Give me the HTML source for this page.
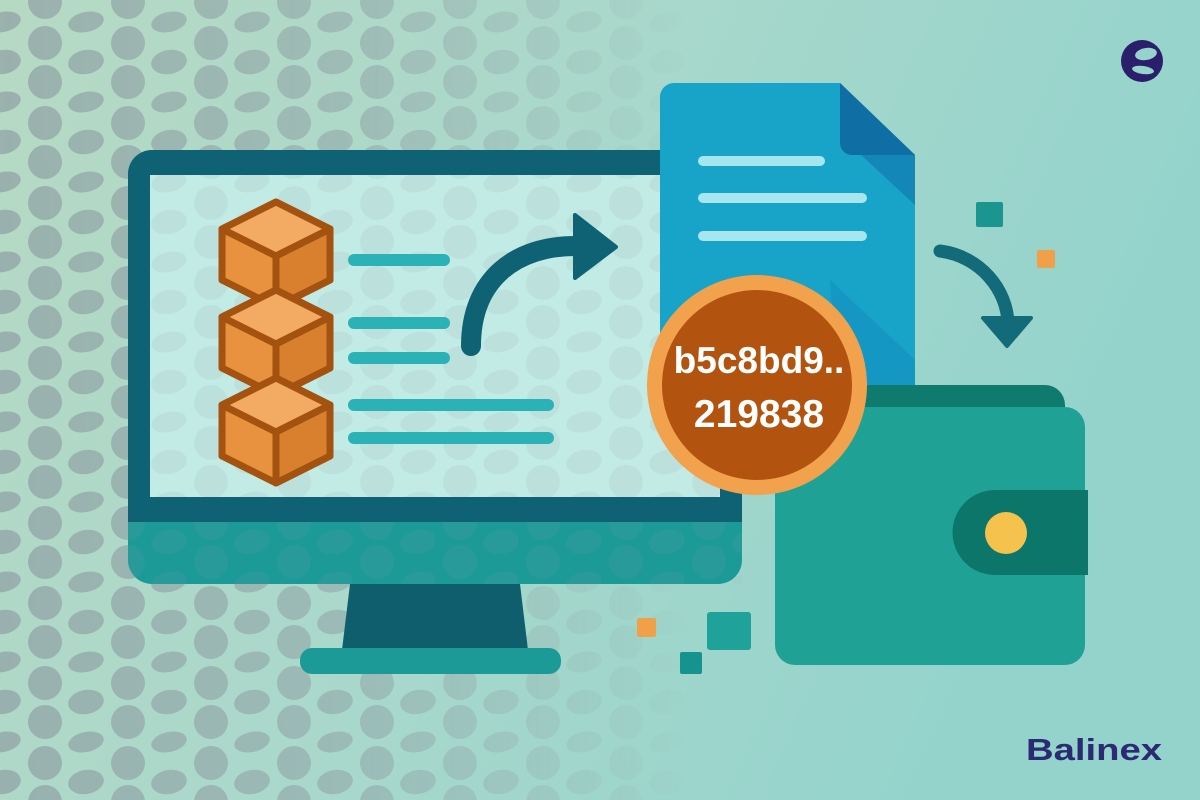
<!DOCTYPE html>
<html><head><meta charset="utf-8"><style>
html,body{margin:0;padding:0;width:1200px;height:800px;overflow:hidden}
svg{display:block}
</style></head><body>
<svg width="1200" height="800" viewBox="0 0 1200 800" xmlns="http://www.w3.org/2000/svg">
<defs>
<linearGradient id="bg" x1="0" y1="0" x2="1" y2="0.3">
<stop offset="0" stop-color="#b6d9c4"/><stop offset="0.5" stop-color="#a9d8cb"/><stop offset="1" stop-color="#93d3cc"/>
</linearGradient>
<pattern id="dots" width="83" height="80" patternUnits="userSpaceOnUse" x="-2" y="2">
<circle cx="47" cy="41" r="17" fill="#8e9fa3"/>
<circle cx="47" cy="0" r="17" fill="#8e9fa3"/>
<circle cx="47" cy="80" r="17" fill="#8e9fa3"/>
<ellipse cx="88" cy="20" rx="18" ry="10" transform="rotate(-12 88 20)" fill="#8e9fa3"/>
<ellipse cx="5" cy="20" rx="18" ry="10" transform="rotate(-12 5 20)" fill="#8e9fa3"/>
<ellipse cx="88" cy="60" rx="18" ry="12" transform="rotate(-10 88 60)" fill="#8e9fa3"/>
<ellipse cx="5" cy="60" rx="18" ry="12" transform="rotate(-10 5 60)" fill="#8e9fa3"/>
</pattern>
<linearGradient id="fade" x1="0" y1="0" x2="1" y2="0">
<stop offset="0" stop-color="#fff" stop-opacity="0.7"/><stop offset="0.3" stop-color="#fff" stop-opacity="0.5"/><stop offset="0.58" stop-color="#fff" stop-opacity="0"/>
</linearGradient>
<mask id="m"><rect width="1200" height="800" fill="url(#fade)"/></mask>
</defs>
<rect width="1200" height="800" fill="url(#bg)"/>
<rect width="1200" height="800" fill="url(#dots)" mask="url(#m)"/>

<!-- monitor -->
<path d="M350 584 L520 584 L528 650 L342 650 Z" fill="#0e5e6e"/>
<rect x="300" y="648" width="261" height="26" rx="12" fill="#1c9a98"/>
<rect x="128" y="150" width="614" height="434" rx="24" fill="#1c9a98"/>
<path d="M152 150 H718 A24 24 0 0 1 742 174 V522 H128 V174 A24 24 0 0 1 152 150 Z" fill="#0e6274"/>
<rect x="150" y="175" width="570" height="322" fill="#c3ebe6"/>
<rect x="150" y="175" width="570" height="322" fill="url(#dots)" opacity="0.13"/>
<rect x="128" y="522" width="614" height="62" fill="url(#dots)" opacity="0.1"/>

<!-- cubes -->
<g stroke="#a4520f" stroke-width="7" stroke-linejoin="round">
<g id="c1">
<polygon points="276,202 330,229 330,280 276,307 222,280 222,229" fill="#e8913e"/>
<polygon points="276,202 330,229 276,256 222,229" fill="#f3ab64"/>
<polygon points="276,256 330,229 330,280 276,307" fill="#d9802f"/>
</g>
<use href="#c1" y="88"/>
<use href="#c1" y="176"/>
</g>

<!-- lines -->
<g stroke="#2ab2b7" stroke-width="12" stroke-linecap="round">
<line x1="354" y1="260" x2="444" y2="260"/>
<line x1="354" y1="323" x2="444" y2="323"/>
<line x1="354" y1="358" x2="444" y2="358"/>
<line x1="354" y1="405" x2="548" y2="405"/>
<line x1="354" y1="438" x2="548" y2="438"/>
</g>

<!-- arrow 1 -->
<path d="M471 346 C471 280 515 245 578 246" fill="none" stroke="#0e6274" stroke-width="20" stroke-linecap="round"/>
<polygon points="575,215 616,247 575,278" fill="#0e6274" stroke="#0e6274" stroke-width="4" stroke-linejoin="round"/>

<!-- document -->
<path d="M674 83 H840 L915 155 V413 A12 12 0 0 1 903 425 H672 A12 12 0 0 1 660 413 V97 A14 14 0 0 1 674 83 Z" fill="#18a3c8"/>
<path d="M840 83 L915 155 L915 205 L845 140 Z" fill="#1388b8"/>
<path d="M840 83 L915 155 H852 A12 12 0 0 1 840 143 Z" fill="#0f6fa4"/>
<path d="M830 280 L915 360 V413 A12 12 0 0 1 903 425 H840 Z" fill="#1390c0" opacity="0.6"/>
<g stroke="#a5e6ef" stroke-width="10" stroke-linecap="round">
<line x1="703" y1="161" x2="820" y2="161"/>
<line x1="703" y1="198" x2="862" y2="198"/>
<line x1="703" y1="236" x2="862" y2="236"/>
</g>

<!-- wallet -->
<rect x="775" y="385" width="290" height="120" rx="20" fill="#0f7a6e"/>
<rect x="775" y="407" width="310" height="258" rx="20" fill="#20a196"/>
<path d="M995 490 H1088 V575 H995 A42 42 0 0 1 995 490 Z" fill="#0c766a"/>
<circle cx="1006" cy="533" r="21" fill="#f6c24e"/>

<!-- coin -->
<circle cx="757" cy="385" r="110" fill="#f2a14c"/>
<circle cx="757" cy="385" r="95" fill="#b2540f"/>
<text x="759" y="373" text-anchor="middle" font-family="Liberation Sans, sans-serif" font-weight="bold" font-size="37" fill="#fff">b5c8bd9..</text>
<text x="759" y="427" text-anchor="middle" font-family="Liberation Sans, sans-serif" font-weight="bold" font-size="39" fill="#fff">219838</text>

<!-- arrow 2 -->
<path d="M940 251 C980 256 1008 290 1008 325" fill="none" stroke="#136a78" stroke-width="13" stroke-linecap="round"/>
<polygon points="983,318 1031,318 1007,346" fill="#136a78" stroke="#136a78" stroke-width="4" stroke-linejoin="round"/>

<!-- squares -->
<rect x="976" y="202" width="27" height="25" rx="2" fill="#1b958f"/>
<rect x="1037" y="250" width="18" height="18" rx="2" fill="#f0a048"/>
<rect x="637" y="618" width="19" height="19" rx="2" fill="#f0a048"/>
<rect x="707" y="612" width="44" height="38" rx="3" fill="#1ea29a"/>
<rect x="680" y="652" width="22" height="22" rx="2" fill="#16938f"/>

<!-- logo -->
<circle cx="1142" cy="61" r="21" fill="#2a1f6a"/>
<ellipse cx="1146" cy="54" rx="11" ry="6" fill="#95d3cc" transform="rotate(-10 1146 54)"/>
<ellipse cx="1143" cy="70" rx="11" ry="4" fill="#95d3cc" transform="rotate(8 1143 70)"/>
<text x="1026" y="760" font-family="Liberation Sans, sans-serif" font-size="31" font-weight="bold" fill="#2b2a72" textLength="136" lengthAdjust="spacingAndGlyphs">Balinex</text>
</svg>
</body></html>
